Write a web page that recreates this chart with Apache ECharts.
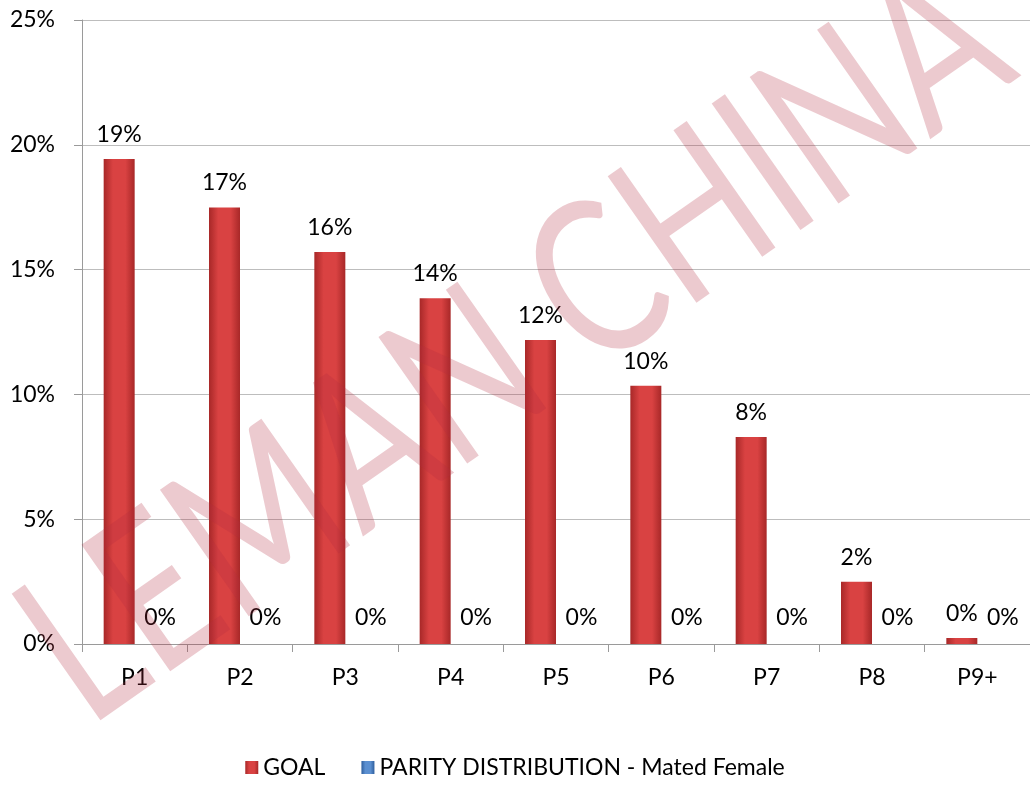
<!DOCTYPE html>
<html>
<head>
<meta charset="utf-8">
<script src="https://cdn.jsdelivr.net/npm/echarts@6/dist/echarts.min.js"></script>
<style>
  html, body { margin: 0; padding: 0; background: #fff; }
  #chart { width: 1030px; height: 789px; }
</style>
</head>
<body>
<div id="chart"></div>
<script>
// categories and values (percent)
const categories = ['P1', 'P2', 'P3', 'P4', 'P5', 'P6', 'P7', 'P8', 'P9+'];
const goalValues = [19.43, 17.49, 15.71, 13.85, 12.18, 10.35, 8.29, 2.49, 0.24];
const parityValues = [0, 0, 0, 0, 0, 0, 0, 0, 0];
const seriesNames = ['GOAL', 'PARITY DISTRIBUTION - Mated Female'];
const watermarkText = 'LEMAN CHINA';

const font = 'Lato, "Open Sans", sans-serif';

const chart = echarts.init(document.getElementById('chart'));

// excel-like bevel: darker edges, lighter middle
function barGradient (dark, light) {
  return new echarts.graphic.LinearGradient(0, 0, 1, 0, [
    { offset: 0, color: dark },
    { offset: 0.3, color: light },
    { offset: 0.7, color: light },
    { offset: 1, color: dark }
  ]);
}

const pctLabel = p => Math.round(p.value) + '%';

const option = {
  animation: false,
  textStyle: { fontFamily: font },
  grid: { left: 82, top: 20, width: 954, bottom: 145, containLabel: false },
  legend: {
    bottom: 5,
    left: 'center',
    itemWidth: 13,
    itemHeight: 13,
    itemGap: 36,
    icon: 'rect',
    textStyle: { fontFamily: font, fontSize: 23, color: '#000' },
    data: seriesNames
  },
  xAxis: {
    type: 'category',
    data: categories,
    boundaryGap: true,
    axisLine: { lineStyle: { color: '#9a9a9a', width: 1 } },
    axisTick: { show: true, length: 8, inside: false, lineStyle: { color: '#9a9a9a' } },
    axisLabel: { fontSize: 23, color: '#000', margin: 22, fontFamily: font }
  },
  yAxis: {
    type: 'value',
    min: 0,
    max: 25,
    interval: 5,
    axisLine: { show: true, lineStyle: { color: '#9a9a9a' } },
    axisTick: { show: true, length: 8, lineStyle: { color: '#9a9a9a' } },
    splitLine: { lineStyle: { color: '#bdbdbd' } },
    axisLabel: { fontSize: 23, color: '#000', margin: 27, fontFamily: font, formatter: '{value}%' }
  },
  series: [
    {
      name: seriesNames[0],
      type: 'bar',
      data: goalValues,
      barWidth: 31,
      barGap: '0%',
      itemStyle: { color: barGradient('#a82828', '#d94242') },
      label: {
        show: true,
        position: 'top',
        distance: 13,
        fontSize: 23,
        color: '#000',
        fontFamily: font,
        formatter: pctLabel
      }
    },
    {
      name: seriesNames[1],
      type: 'bar',
      data: parityValues,
      barWidth: 31,
      itemStyle: { color: barGradient('#2f5f9e', '#5b8fd0') },
      label: {
        show: true,
        position: 'top',
        distance: 15,
        offset: [10, 0],
        fontSize: 23,
        color: '#000',
        fontFamily: font,
        formatter: pctLabel
      }
    }
  ],
  graphic: [
    {
      // watermark
      type: 'text',
      x: 515,
      y: 345,
      rotation: 35 * Math.PI / 180,
      scaleY: 1.3,
      z: 100,
      silent: true,
      style: {
        text: watermarkText,
        font: 'normal 166px ' + font,
        fill: 'rgba(180, 45, 65, 0.25)',
        textAlign: 'center',
        textVerticalAlign: 'middle'
      }
    }
  ]
};

chart.setOption(option);
</script>
</body>
</html>
